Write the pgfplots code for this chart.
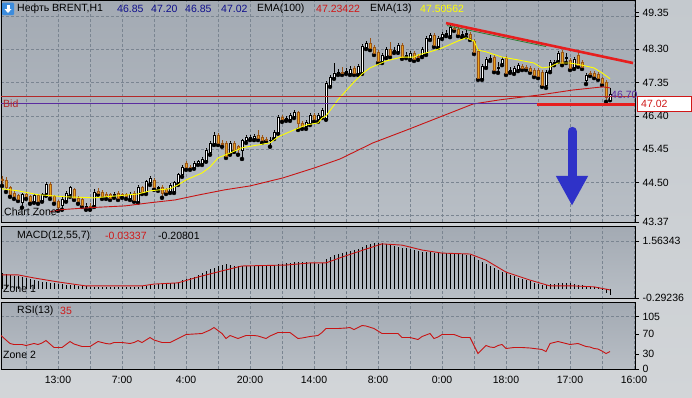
\documentclass[border=0pt]{standalone}
\usepackage{fontspec}
\setmainfont{Liberation Sans}
\usepackage{pgfplots}
\usepackage{pgfplotstable}
\pgfplotsset{compat=1.18}
\usetikzlibrary{arrows.meta}

\definecolor{outerbg}{HTML}{C4C9CE}
\definecolor{outerbot}{HTML}{D2D5D8}
\definecolor{paneltop}{HTML}{A3AAB3}
\definecolor{panelbot}{HTML}{B8BEC5}
\definecolor{gridc}{HTML}{7A8591}
\definecolor{corange}{HTML}{EAA21C}
\definecolor{cbrown}{HTML}{9A5518}
\definecolor{emared}{HTML}{C81414}
\definecolor{emayel}{HTML}{FFFF00}
\definecolor{navyv}{HTML}{10108C}
\definecolor{arrowblue}{HTML}{2F32C8}
\definecolor{trendred}{HTML}{E61E1E}
\definecolor{trendgreen}{HTML}{2E7D32}
\definecolor{purpl}{HTML}{5A2CA0}
\definecolor{bidred}{HTML}{B42828}
\definecolor{valred}{HTML}{D01818}
\definecolor{iconblue}{HTML}{3C8CDC}

\newcommand{\chartfont}{\fontsize{10.5}{12}\selectfont}

\pgfplotsset{
  panel/.style={scale only axis, width=634pt, xmin=-0.25, xmax=158.25, anchor=north west,
    axis line style={black, line width=0.8pt},
    tick label style={font=\chartfont, black},
    grid style={gridc, line width=0.6pt, dash pattern=on 3pt off 2pt},
    xtick={6,14,...,158}, xmajorgrids, ymajorgrids,
    xtick style={draw=none},
    ytick pos=right, yticklabel pos=right, tick align=outside, major tick length=4pt,
    ytick style={black, line width=0.6pt},
    axis background/.style={top color=paneltop, bottom color=panelbot}},
  over/.style={scale only axis, width=634pt, xmin=-0.25, xmax=158.25, anchor=north west, hide axis},
}

\pgfplotstableread{
i O H L C
5 43.92 44.20 43.78 44.15
8 43.97 44.17 43.92 44.12
10 44.00 44.20 43.95 44.15
11 44.20 44.52 44.12 44.46
15 43.86 44.09 43.72 44.03
16 44.00 44.26 43.95 44.20
17 44.15 44.40 44.09 44.35
21 43.80 43.92 43.72 43.83
23 43.86 44.32 43.80 44.23
28 44.12 44.23 44.06 44.17
32 44.06 44.23 44.00 44.17
34 43.97 44.43 43.92 44.37
36 44.23 44.57 44.17 44.52
37 44.49 44.69 44.43 44.63
39 44.32 44.40 44.26 44.35
42 44.26 44.49 44.20 44.43
43 44.26 44.55 44.20 44.49
44 44.49 44.77 44.43 44.72
45 44.72 45.00 44.66 44.94
48 44.94 45.12 44.89 45.06
49 45.06 45.14 45.00 45.09
50 45.06 45.23 45.00 45.17
51 45.14 45.49 45.09 45.43
52 45.37 45.69 45.29 45.63
53 45.63 45.94 45.57 45.86
57 45.34 45.69 45.29 45.63
60 45.43 45.74 45.17 45.69
61 45.69 45.86 45.63 45.80
62 45.77 45.86 45.71 45.80
63 45.77 45.89 45.71 45.83
67 45.69 45.80 45.52 45.71
68 45.80 46.00 45.74 45.94
69 45.94 46.43 45.89 46.37
71 46.31 46.40 46.26 46.34
72 46.31 46.49 46.26 46.43
73 46.40 46.57 46.34 46.51
76 46.09 46.29 46.03 46.23
77 46.20 46.49 46.14 46.43
79 46.29 46.49 46.23 46.43
80 46.40 46.63 46.34 46.57
81 46.34 47.40 46.29 47.34
82 47.28 47.57 47.23 47.51
83 47.51 47.91 47.46 47.63
84 47.63 47.74 47.57 47.65
86 47.65 47.77 47.60 47.68
87 47.63 47.83 47.57 47.74
89 47.63 47.88 47.57 47.83
90 47.65 48.45 47.60 48.40
91 48.37 48.54 48.31 48.48
95 47.97 48.20 47.91 48.14
96 48.11 48.37 48.05 48.31
98 48.25 48.37 48.20 48.28
99 48.25 48.48 48.20 48.43
101 48.11 48.23 48.05 48.14
102 48.05 48.25 48.00 48.20
105 48.14 48.37 48.08 48.31
106 48.20 48.68 48.14 48.63
107 48.63 48.77 48.57 48.71
109 48.40 48.68 48.34 48.63
110 48.65 48.80 48.60 48.74
111 48.74 48.85 48.68 48.77
112 48.71 49.00 48.65 48.94
115 48.71 48.83 48.65 48.74
116 48.74 48.85 48.65 48.77
120 47.48 47.88 47.43 47.83
121 47.83 48.08 47.77 48.03
122 48.03 48.14 47.97 48.05
124 47.77 47.94 47.63 47.80
125 47.91 48.08 47.85 48.03
127 47.68 47.80 47.63 47.71
128 47.65 47.83 47.60 47.77
129 47.74 47.91 47.68 47.85
136 47.28 47.71 47.20 47.65
137 47.71 48.00 47.65 47.94
138 47.91 48.00 47.85 47.94
139 48.00 48.25 47.94 48.20
141 48.05 48.20 47.91 48.08
143 47.80 48.08 47.74 48.03
146 47.43 47.63 47.31 47.57
152 46.85 47.20 46.85 47.02
}\upc

\pgfplotstableread{
i O H L C
0 44.60 44.69 44.40 44.55
1 44.57 44.66 44.23 44.37
2 44.35 44.40 44.09 44.15
3 44.20 44.26 44.03 44.09
4 44.12 44.17 43.97 44.03
6 44.15 44.20 44.03 44.09
7 44.09 44.15 43.89 43.95
9 44.12 44.17 43.89 43.95
12 44.46 44.52 44.03 44.09
13 44.09 44.15 43.89 43.95
14 43.95 44.00 43.69 43.78
18 44.29 44.35 44.00 44.06
19 44.06 44.12 43.89 43.95
20 44.03 44.09 43.80 43.86
22 43.83 43.92 43.72 43.80
24 44.26 44.35 44.15 44.20
25 44.23 44.29 44.03 44.09
26 44.17 44.23 44.03 44.09
27 44.15 44.20 44.00 44.06
29 44.20 44.26 44.00 44.06
30 44.15 44.20 44.06 44.12
31 44.15 44.20 44.03 44.09
33 44.20 44.26 43.95 44.00
35 44.35 44.40 44.17 44.23
38 44.57 44.63 44.29 44.35
40 44.37 44.43 44.06 44.20
41 44.29 44.35 44.17 44.23
46 45.06 45.12 44.86 44.92
47 44.94 45.00 44.86 44.92
54 45.86 45.92 45.57 45.63
55 45.63 45.71 45.52 45.60
56 45.63 45.69 45.20 45.26
58 45.63 45.69 45.37 45.43
59 45.52 45.57 45.29 45.46
64 45.86 46.00 45.71 45.77
65 45.80 45.86 45.63 45.69
66 45.74 45.80 45.66 45.71
70 46.37 46.43 46.23 46.29
74 46.49 46.54 46.00 46.20
75 46.20 46.26 46.03 46.09
78 46.43 46.49 46.23 46.29
85 47.65 47.80 47.57 47.63
88 47.77 47.83 47.57 47.63
92 48.48 48.63 48.28 48.34
93 48.37 48.43 48.14 48.20
94 48.23 48.28 47.91 47.97
97 48.31 48.51 48.08 48.14
100 48.43 48.48 48.03 48.08
103 48.20 48.25 47.97 48.03
104 48.11 48.17 48.00 48.08
108 48.71 48.77 48.37 48.43
113 48.91 48.97 48.83 48.88
114 48.88 48.94 48.68 48.74
117 48.74 48.80 48.57 48.63
118 48.54 48.60 48.17 48.23
119 48.25 48.31 47.43 47.48
123 48.08 48.14 47.65 47.71
126 48.05 48.11 47.57 47.63
130 47.83 47.88 47.71 47.77
131 47.80 47.85 47.71 47.77
132 47.77 47.83 47.63 47.68
133 47.71 47.77 47.51 47.57
134 47.71 47.77 47.48 47.54
135 47.65 47.71 47.23 47.28
140 48.23 48.28 47.85 47.91
142 48.00 48.05 47.71 47.77
144 48.14 48.28 47.80 47.85
145 47.94 48.00 47.74 47.80
147 47.63 47.68 47.54 47.60
148 47.63 47.68 47.48 47.54
149 47.60 47.65 47.43 47.48
150 47.46 47.51 47.28 47.34
151 47.37 47.43 46.80 46.94
}\dnc

\begin{document}
\begin{tikzpicture}
\useasboundingbox (0,0) rectangle (692pt,-397pt);
\fill[top color=outerbg, bottom color=outerbot] (0,0) rectangle (692pt,-397pt);

% ---------------- price panel: grid + wicks
\begin{axis}[panel, at={(1pt,0pt)}, height=222pt, ymin=43.37, ymax=49.71,
  xticklabels={},
  ytick={43.55,44.50,45.45,46.40,47.35,48.30,49.25},
  yticklabels={,44.50,45.45,46.40,47.35,48.30,},
  extra y ticks={43.37,49.35}, extra y tick labels={43.37,49.35},
  extra y tick style={grid=none}]
\addplot[only marks, mark=none, error bars/.cd, y dir=plus, y explicit, error mark=none,
  error bar style={black, line width=0.7pt}]
  table[x=i, y=L, y error expr=\thisrow{H}-\thisrow{L}] {\upc};
\addplot[only marks, mark=none, error bars/.cd, y dir=plus, y explicit, error mark=none,
  error bar style={cbrown, line width=0.7pt}]
  table[x=i, y=L, y error expr=\thisrow{H}-\thisrow{L}] {\dnc};
\end{axis}

% up bodies
\begin{axis}[over, at={(1pt,0pt)}, height=222pt, ymin=43.37, ymax=49.71, ybar stacked, bar width=2.2pt]
\addplot[draw=none, fill=none] table[x=i, y=O] {\upc};
\addplot[draw=black, fill=white, line width=0.6pt] table[x=i, y expr=\thisrow{C}-\thisrow{O}] {\upc};
\end{axis}
% down bodies
\begin{axis}[over, at={(1pt,0pt)}, height=222pt, ymin=43.37, ymax=49.71, ybar stacked, bar width=2.2pt]
\addplot[draw=none, fill=none] table[x=i, y=C] {\dnc};
\addplot[draw=cbrown, fill=corange, line width=0.6pt] table[x=i, y expr=\thisrow{O}-\thisrow{C}] {\dnc};
\end{axis}

% lines and annotations
\begin{axis}[over, at={(1pt,0pt)}, height=222pt, ymin=43.37, ymax=49.71]
% EMA(100)
\addplot[emared, line width=0.9pt] coordinates {(12,43.66)(14.5,43.72)(22,43.78)(30.75,43.83)(37,43.92)(43.25,44.00)(49.5,44.15)(55.75,44.29)(62,44.40)(70.25,44.63)(78.25,44.92)(84.5,45.17)(92.75,45.63)(101.25,46.00)(109.5,46.37)(117.75,46.74)(124.5,46.86)(134.5,47.00)(142.75,47.14)(150.25,47.23)(152,47.20)};
% EMA(13)
\addplot[emayel, line width=0.9pt] coordinates {(0,44.32)(4,44.26)(9,44.15)(16,44.09)(23,44.06)(29,44.12)(34,44.17)(37,44.26)(42,44.32)(44,44.43)(46,44.57)(50,44.77)(52,44.94)(54,45.20)(57,45.34)(60,45.49)(64,45.57)(67,45.63)(69,45.80)(73,46.00)(76,46.14)(79,46.20)(80,46.34)(81,46.40)(84,46.86)(88,47.37)(90,47.60)(92,47.77)(96,47.97)(100,48.08)(103,48.08)(104,48.14)(107,48.23)(110,48.34)(114,48.54)(116,48.63)(118,48.54)(119,48.28)(121,48.23)(125,48.08)(129,48.00)(133,47.91)(135,47.77)(137,47.80)(139,47.91)(142,47.91)(145,47.85)(148,47.77)(150,47.63)(152,47.46)};
% bid and level lines
\addplot[bidred, line width=0.8pt] coordinates {(-0.25,46.97)(158.25,46.97)};
\addplot[purpl, line width=0.8pt] coordinates {(-0.25,46.757)(158.25,46.757)};
% trend lines
\addplot[trendgreen, line width=0.8pt] coordinates {(111.25,48.98)(136,48.38)};
\addplot[trendred, line width=2.6pt] coordinates {(111,49.05)(157.75,47.91)};
\addplot[trendred, line width=2.6pt] coordinates {(133.75,46.73)(158.25,46.73)};
% arrow
\addplot[arrowblue, line width=9pt, line cap=round, -{Triangle[width=30pt,length=30pt]}] coordinates {(142.5,45.96)(142.5,43.83)};
\end{axis}

% ---------------- MACD panel
\begin{axis}[panel, at={(1pt,-226.5pt)}, height=72pt, ymin=-0.31, ymax=2.036,
  xticklabels={},
  ytick={-0.29236,1.56343}, yticklabels={-0.29236,1.56343}]
\addplot[ycomb, black, line width=0.7pt] coordinates {(0,0.52)(1,0.50)(2,0.47)(3,0.43)(4,0.41)(5,0.38)(6,0.36)(7,0.33)(8,0.30)(9,0.27)(10,0.24)(11,0.22)(12,0.20)(13,0.18)(14,0.17)(15,0.15)(16,0.14)(17,0.13)(18,0.12)(19,0.11)(20,0.10)(21,0.09)(22,0.08)(23,0.07)(24,0.07)(25,0.06)(26,0.06)(27,0.06)(28,0.07)(29,0.07)(30,0.07)(31,0.07)(32,0.07)(33,0.08)(34,0.08)(35,0.09)(36,0.11)(37,0.13)(38,0.14)(39,0.15)(40,0.16)(41,0.17)(42,0.19)(43,0.21)(44,0.24)(45,0.28)(46,0.32)(47,0.36)(48,0.40)(49,0.45)(50,0.52)(51,0.58)(52,0.64)(53,0.70)(54,0.75)(55,0.79)(56,0.80)(57,0.78)(58,0.76)(59,0.75)(60,0.75)(61,0.74)(62,0.74)(63,0.74)(64,0.75)(65,0.75)(66,0.76)(67,0.77)(68,0.78)(69,0.80)(70,0.83)(71,0.85)(72,0.86)(73,0.87)(74,0.88)(75,0.88)(76,0.87)(77,0.86)(78,0.84)(79,0.83)(80,0.86)(81,0.97)(82,1.05)(83,1.10)(84,1.14)(85,1.17)(86,1.20)(87,1.23)(88,1.27)(89,1.31)(90,1.37)(91,1.42)(92,1.46)(93,1.49)(94,1.50)(95,1.49)(96,1.47)(97,1.44)(98,1.41)(99,1.38)(100,1.35)(101,1.32)(102,1.29)(103,1.27)(104,1.25)(105,1.22)(106,1.21)(107,1.20)(108,1.18)(109,1.18)(110,1.17)(111,1.16)(112,1.16)(113,1.15)(114,1.14)(115,1.13)(116,1.12)(117,1.10)(118,1.05)(119,0.96)(120,0.88)(121,0.80)(122,0.74)(123,0.68)(124,0.62)(125,0.57)(126,0.51)(127,0.46)(128,0.41)(129,0.37)(130,0.33)(131,0.29)(132,0.25)(133,0.21)(134,0.17)(135,0.14)(136,0.13)(137,0.15)(138,0.17)(139,0.19)(140,0.20)(141,0.19)(142,0.18)(143,0.16)(144,0.14)(145,0.13)(146,0.10)(147,0.09)(148,0.08)(149,0.06)(150,-0.02)(151,-0.12)(152,-0.21)};
\addplot[emared, line width=0.9pt] coordinates {(0,0.46)(4,0.46)(8,0.36)(14,0.23)(21,0.10)(35,0.10)(38,0.16)(44,0.20)(49,0.39)(55,0.59)(60,0.75)(71,0.78)(77,0.85)(81,0.85)(85,1.04)(91,1.30)(95,1.47)(100,1.43)(105,1.27)(110,1.17)(117,1.14)(121,0.94)(126,0.55)(132,0.29)(137,0.10)(143,0.10)(148,0.07)(152,-0.03)};
\end{axis}

% ---------------- RSI panel
\begin{axis}[panel, at={(1pt,-302.5pt)}, height=66.5pt, ymin=0, ymax=133,
  xticklabels={,13:00,,7:00,,4:00,,20:00,,14:00,,8:00,,0:00,,18:00,,17:00,,16:00},
  ytick={0,105}, yticklabels={0,105},
  extra y ticks={30,70}, extra y tick labels={30,70}, extra y tick style={grid=none}]
\addplot[emared, line width=0.9pt] coordinates {(-0.25,67)(1,58)(2,51)(3,49)(5,49)(6,47)(8,51)(9,49)(10,52)(11,57)(12,50)(13,43)(15,43)(16,49)(17,55)(18,50)(20,45)(22,45)(23,50)(24,55)(26,51)(27,50)(28,53)(30,53)(32,51)(33,53)(34,57)(35,53)(36,58)(37,63)(38,58)(40,53)(42,53)(44,61)(46,69)(48,70)(50,71)(52,78)(53,83)(54,77)(55,71)(56,61)(57,67)(58,64)(59,61)(61,67)(63,67)(64,66)(66,61)(67,66)(69,73)(72,73)(73,67)(74,61)(75,62)(77,65)(79,67)(80,73)(81,81)(84,81)(86,82)(87,83)(88,79)(89,83)(90,87)(91,86)(93,81)(94,76)(95,71)(99,71)(100,63)(102,63)(103,61)(104,59)(105,65)(107,71)(108,61)(109,64)(110,69)(113,69)(114,66)(115,63)(117,63)(118,47)(119,31)(120,39)(121,47)(122,44)(123,43)(124,47)(125,49)(126,41)(128,43)(130,43)(132,42)(133,41)(135,39)(136,35)(137,51)(138,53)(139,55)(140,53)(142,49)(143,50)(144,51)(145,48)(146,45)(147,44)(148,41)(149,40)(150,36)(151,31)(152,35)};
\end{axis}

% ---------------- texts
\fill[iconblue, rounded corners=1pt] (2pt,-2.5pt) rectangle (14pt,-15pt);
\fill[white] (6.5pt,-4.5pt) rectangle (9.5pt,-9pt);
\fill[white] (4.5pt,-9pt) -- (11.5pt,-9pt) -- (8pt,-13pt) -- cycle;
\begin{scope}[every node/.style={font=\chartfont, inner sep=0pt, anchor=west}]
\node at (17pt,-9pt) {Нефть BRENT,H1};
\node[text=navyv] at (117pt,-9pt) {46.85};
\node[text=navyv] at (151pt,-9pt) {47.20};
\node[text=navyv] at (185pt,-9pt) {46.85};
\node[text=navyv] at (221pt,-9pt) {47.02};
\node at (257pt,-9pt) {EMA(100)};
\node[text=valred] at (316pt,-9pt) {47.23422};
\node at (370pt,-9pt) {EMA(13)};
\node[text=emayel] at (420pt,-9pt) {47.50562};
\node[text=bidred] at (3pt,-103.5pt) {Bid};
\node at (4pt,-212pt) {Chart Zone};
\node[text=purpl] at (611pt,-95pt) {46.70};
\node at (17pt,-236pt) {MACD(12,55,7)};
\node[text=valred] at (105pt,-236pt) {-0.03337};
\node at (158pt,-236pt) {-0.20801};
\node at (3pt,-289pt) {Zone 1};
\node at (17pt,-311pt) {RSI(13)};
\node[text=valred] at (60pt,-311pt) {35};
\node at (3pt,-355pt) {Zone 2};
\end{scope}
\draw[valred, fill=white, line width=0.8pt] (637.5pt,-96pt) rectangle (691.5pt,-111pt);
\node[font=\chartfont, text=valred, anchor=west, inner sep=0pt] at (641pt,-103.5pt) {47.02};
\end{tikzpicture}
\end{document}
